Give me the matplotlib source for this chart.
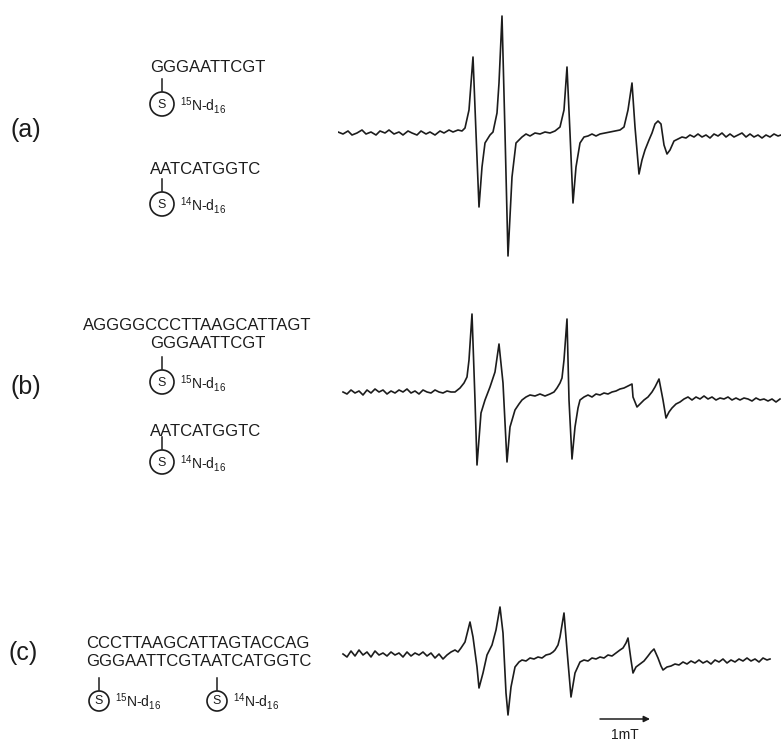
import matplotlib
matplotlib.use("Agg")
import matplotlib.pyplot as plt
from matplotlib.patches import Circle

plt.rcParams['font.family'] = ['Liberation Sans', 'DejaVu Sans']
plt.rcParams['mathtext.fontset'] = 'custom'
plt.rcParams['mathtext.rm'] = 'Liberation Sans'
plt.rcParams['mathtext.it'] = 'Liberation Sans'

# EPR spectra, field in mT (from left edge of trace), amplitude in a.u.
field_a = [0.00, 0.10, 0.20, 0.28, 0.38, 0.48, 0.56, 0.66, 0.76, 0.84,
           0.94, 1.02, 1.12, 1.22, 1.30, 1.40, 1.48, 1.58, 1.66, 1.76,
           1.84, 1.94, 2.04, 2.12, 2.22, 2.30, 2.40, 2.48, 2.54, 2.62,
           2.70, 2.76, 2.82, 2.88, 2.94, 3.04, 3.10, 3.18, 3.22, 3.28,
           3.34, 3.40, 3.48, 3.56, 3.68, 3.76, 3.84, 3.94, 4.04, 4.14,
           4.24, 4.34, 4.44, 4.52, 4.58, 4.64, 4.70, 4.76, 4.84, 4.92,
           5.00, 5.08, 5.16, 5.24, 5.34, 5.44, 5.54, 5.64, 5.72, 5.80,
           5.88, 5.94, 6.02, 6.08, 6.14, 6.22, 6.28, 6.34, 6.40, 6.46,
           6.52, 6.58, 6.64, 6.72, 6.80, 6.88, 6.96, 7.04, 7.12, 7.20,
           7.28, 7.36, 7.44, 7.52, 7.60, 7.68, 7.76, 7.84, 7.92, 8.00,
           8.08, 8.16, 8.24, 8.32, 8.40, 8.48, 8.56, 8.64, 8.72, 8.80,
           8.86]
amp_a = [1, -1, 2, -2, 0, 3, -1, 1, -2, 2,
         0, 3, -1, 1, -2, 2, 0, -2, 2, -1,
         1, -2, 2, 0, 3, 1, 3, 2, 5, 23,
         76, 0, -74, -34, -10, -2, 1, 20, 50, 117,
         0, -123, -44, -10, -4, -1, -3, 0, -1, 1,
         0, 2, 6, 23, 66, 0, -70, -34, -10, -4,
         -3, -1, -3, -1, 0, 1, 2, 3, 6, 23,
         50, 6, -41, -27, -17, -7, 0, 9, 12, 9,
         -12, -21, -17, -8, -6, -4, -5, -2, -4, -1,
         -4, -2, -5, -1, -3, 0, -4, -1, -4, -2,
         0, -4, -1, -4, -2, -5, -2, -4, -1, -3,
         -2]

field_b = [0.10, 0.18, 0.26, 0.34, 0.42, 0.50, 0.58, 0.66, 0.74, 0.82,
           0.90, 0.98, 1.06, 1.14, 1.22, 1.30, 1.38, 1.46, 1.54, 1.62,
           1.70, 1.78, 1.86, 1.94, 2.02, 2.10, 2.18, 2.26, 2.34, 2.44,
           2.52, 2.58, 2.62, 2.68, 2.74, 2.78, 2.86, 2.94, 3.04, 3.14,
           3.22, 3.30, 3.38, 3.44, 3.54, 3.62, 3.68, 3.76, 3.84, 3.94,
           4.04, 4.14, 4.24, 4.32, 4.38, 4.44, 4.48, 4.52, 4.58, 4.62,
           4.68, 4.74, 4.80, 4.84, 4.92, 5.00, 5.08, 5.16, 5.24, 5.32,
           5.40, 5.48, 5.56, 5.64, 5.72, 5.80, 5.88, 5.90, 5.98, 6.04,
           6.12, 6.20, 6.28, 6.34, 6.42, 6.50, 6.56, 6.62, 6.68, 6.76,
           6.84, 6.92, 7.00, 7.08, 7.16, 7.24, 7.32, 7.40, 7.48, 7.56,
           7.64, 7.72, 7.80, 7.88, 7.96, 8.04, 8.12, 8.20, 8.28, 8.36,
           8.44, 8.52, 8.60, 8.68, 8.76, 8.84]
amp_b = [3, 1, 5, 2, 4, 0, 5, 2, 6, 3,
         5, 1, 4, 2, 5, 3, 6, 2, 4, 1,
         5, 3, 2, 5, 3, 2, 4, 3, 3, 7,
         12, 18, 35, 81, -5, -70, -18, -5, 8, 23,
         51, 12, -67, -32, -15, -9, -5, -2, 0, -1,
         1, -1, 1, 3, 7, 12, 17, 35, 76, -5,
         -64, -32, -13, -5, -2, 0, -2, 1, 0, 2,
         1, 3, 4, 6, 7, 9, 11, -2, -12, -9,
         -5, -2, 3, 8, 16, -5, -23, -17, -13, -9,
         -7, -4, -2, -5, -2, -4, -1, -4, -2, -5,
         -3, -4, -2, -5, -3, -5, -3, -4, -6, -3,
         -5, -4, -6, -4, -7, -4]

field_c = [0.10, 0.18, 0.26, 0.34, 0.42, 0.50, 0.58, 0.66, 0.74, 0.82,
           0.90, 0.98, 1.06, 1.14, 1.22, 1.30, 1.38, 1.46, 1.54, 1.62,
           1.70, 1.78, 1.86, 1.94, 2.02, 2.10, 2.18, 2.26, 2.34, 2.40,
           2.46, 2.54, 2.64, 2.70, 2.78, 2.82, 2.90, 2.98, 3.08, 3.16,
           3.24, 3.30, 3.36, 3.40, 3.46, 3.54, 3.62, 3.68, 3.76, 3.84,
           3.92, 4.00, 4.08, 4.16, 4.24, 4.30, 4.34, 4.40, 4.44, 4.52,
           4.58, 4.66, 4.74, 4.84, 4.92, 5.00, 5.08, 5.16, 5.24, 5.32,
           5.40, 5.48, 5.56, 5.64, 5.70, 5.76, 5.80, 5.86, 5.90, 5.96,
           6.04, 6.12, 6.20, 6.26, 6.32, 6.40, 6.46, 6.50, 6.58, 6.66,
           6.74, 6.82, 6.90, 6.98, 7.06, 7.14, 7.22, 7.30, 7.38, 7.46,
           7.54, 7.62, 7.70, 7.78, 7.86, 7.94, 8.02, 8.10, 8.18, 8.26,
           8.34, 8.42, 8.50, 8.58, 8.64]
amp_c = [1, -2, 4, -1, 5, 0, 3, -2, 4, 0,
         2, -1, 3, 0, 2, -2, 3, -1, 2, 0,
         3, -1, 2, -3, 1, -4, 0, 3, 5, 3,
         7, 13, 33, 18, -12, -33, -18, 0, 10, 25,
         48, 22, -38, -60, -32, -12, -7, -5, -6, -3,
         -4, -2, -3, 0, 1, 3, 5, 10, 18, 42,
         5, -42, -18, -7, -5, -6, -3, -4, -2, -3,
         0, -1, 2, 5, 7, 12, 17, -5, -18, -12,
         -9, -6, -1, 3, 6, -3, -11, -15, -12, -11,
         -9, -10, -7, -9, -6, -8, -5, -8, -6, -9,
         -5, -7, -4, -8, -5, -7, -4, -6, -3, -6,
         -4, -7, -3, -5, -4]

panel_labels = ['(a)', '(b)', '(c)']
scale_bar_mT = 1.0

W, H = 781, 742
fig = plt.figure(figsize=(W / 100, H / 100), dpi=100)

# overlay in pixel units for the labels and oligo sketches
ov = fig.add_axes([0, 0, 1, 1])
ov.set_xlim(0, W)
ov.set_ylim(H, 0)
ov.axis('off')

ink = '#1c1c1c'


def spectrum_axes(top, bottom, base):
    ax = fig.add_axes([338 / W, (H - bottom) / H, (W - 338) / W, (bottom - top) / H])
    ax.set_xlim(0, (W - 338) / 50)
    ax.set_ylim(base - bottom, base - top)
    ax.axis('off')
    return ax


ax_a = spectrum_axes(0, 270, 133)
ax_b = spectrum_axes(290, 480, 395)
ax_c = spectrum_axes(590, 742, 655)
for ax, f, a in [(ax_a, field_a, amp_a), (ax_b, field_b, amp_b), (ax_c, field_c, amp_c)]:
    ax.plot(f, a, color=ink, lw=1.2, solid_joinstyle='round')

# 1 mT scale bar
ax_c.annotate('', xy=(5.24 + scale_bar_mT, -64), xytext=(5.24, -64),
              arrowprops=dict(arrowstyle='-|>', color=ink, lw=1.1,
                              mutation_scale=9, shrinkA=0, shrinkB=0))
ax_c.text(5.24 + scale_bar_mT / 2, -80, '1mT', ha='center', va='center',
          fontsize=10, color=ink)

# panel letters
for lab, (x, y) in zip(panel_labels, [(10, 130), (10, 387), (8, 653)]):
    ov.text(x, y, lab, fontsize=18, va='center', ha='left', color=ink)

seq_fs = 12


def label(x, y, iso, r=12):
    # tether tick, circled S and isotope label
    ov.plot([x, x], [y - r - 13, y - r - 1], color=ink, lw=1.1)
    ov.add_patch(Circle((x, y), r, fill=False, lw=1.2, color=ink))
    ov.text(x, y + 0.5, 'S', fontsize=9, ha='center', va='center', color=ink)
    ov.text(x + r + 6, y + 1, r'$^{\mathrm{' + iso + r'}}$N-d$_{\mathrm{16}}$',
            fontsize=10, ha='left', va='center', color=ink)


# (a)
ov.text(150, 68, 'GGGAATTCGT', fontsize=seq_fs, va='center', color=ink)
label(162, 104, '15')
ov.text(150, 169, 'AATCATGGTC', fontsize=seq_fs, va='center', color=ink)
label(162, 204, '14')

# (b)
ov.text(83, 325, 'AGGGGCCCTTAAGCATTAGT', fontsize=seq_fs, va='center', color=ink)
ov.text(150, 344, 'GGGAATTCGT', fontsize=seq_fs, va='center', color=ink)
label(162, 382, '15')
ov.text(150, 431, 'AATCATGGTC', fontsize=seq_fs, va='center', color=ink)
label(162, 462, '14')

# (c)
ov.text(86, 644, 'CCCTTAAGCATTAGTACCAG', fontsize=seq_fs, va='center', color=ink)
ov.text(86, 662, 'GGGAATTCGTAATCATGGTC', fontsize=seq_fs, va='center', color=ink)
label(99, 701, '15', r=10)
label(217, 701, '14', r=10)

fig.savefig('out.png', dpi=100, facecolor='white')
